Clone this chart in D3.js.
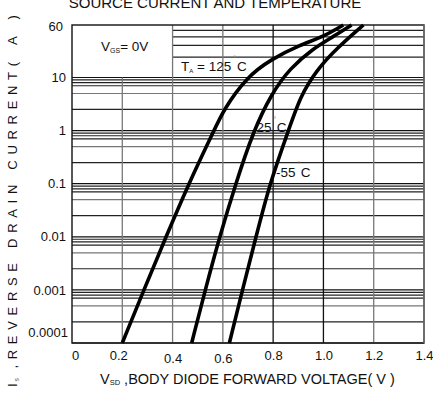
<!DOCTYPE html>
<html>
<head>
<meta charset="utf-8">
<script src="https://cdn.jsdelivr.net/npm/d3@7/dist/d3.min.js"></script>
<style>
  html, body { margin: 0; padding: 0; background: #fff; }
  svg { display: block; font-family: "Liberation Sans", Arial, sans-serif; }
</style>
</head>
<body>
<svg id="chart" width="433" height="394"></svg>
<script>
// Axis ticks
const voltageTicks = [0, 0.2, 0.4, 0.6, 0.8, 1.0, 1.2, 1.4];
const voltageLabels = ["0", "0.2", "0.4", "0.6", "0.8", "1.0", "1.2", "1.4"];
const currentTicks = [60, 10, 1, 0.1, 0.01, 0.001, 0.0001];
const currentLabels = ["60", "10", "1", "0.1", "0.01", "0.001", "0.0001"];

// Horizontal grid: decade lines plus these fractions of each decade
const decades = [10, 1, 0.1, 0.01, 0.001, 0.0001];
const decadeFractions = [0.9, 0.8, 0.7, 0.5, 0.25];
const topGrid = [20, 30, 40, 50];

// Body diode forward voltage (V) vs source current (A)
const vf125 = [0.200, 0.286, 0.374, 0.464, 0.565, 0.602, 0.695, 0.794, 0.907, 1.000, 1.079];
const is125 = [1e-4, 1e-3, 0.01, 0.1, 1.0, 2.44, 10.2, 18.8, 30.3, 40.3, 60];
const vf25 = [0.476, 0.530, 0.587, 0.651, 0.722, 0.794, 0.867, 0.960, 1.039, 1.112];
const is25 = [1e-4, 1e-3, 0.01, 0.1, 1.0, 5.0, 13.7, 27.1, 40.3, 60];
const vfm55 = [0.626, 0.678, 0.732, 0.786, 0.861, 0.907, 0.973, 1.053, 1.159];
const ism55 = [1e-4, 1e-3, 0.01, 0.1, 1.0, 4.35, 12.9, 27.1, 60];

const svg = d3.select("#chart");

const x = d3.scaleLinear().domain([0, 1.4]).range([72, 424]);
// Log scale, with the top segment (10..60) spread to the frame top
const y = d3.scaleLog().domain([0.0001, 10, 60]).range([343, 77.5, 25]);

const x0 = x(0), x1 = x(1.4), yTop = y(60), yBot = y(0.0001);

// Horizontal grid lines
const gridH = svg.append("g");
decades.forEach(d => {
  gridH.append("line").attr("x1", x0).attr("x2", x1)
    .attr("y1", y(d)).attr("y2", y(d)).attr("stroke", "#111").attr("stroke-width", 1.2);
  if (d > 0.0001) {
    decadeFractions.forEach(f => {
      const v = d * f;
      gridH.append("line").attr("x1", x0).attr("x2", x1)
        .attr("y1", y(v)).attr("y2", y(v))
        .attr("stroke", f === 0.5 ? "#777" : "#222").attr("stroke-width", 1.2);
    });
  }
});
topGrid.forEach(v => {
  gridH.append("line").attr("x1", x(0.4)).attr("x2", x1)
    .attr("y1", y(v)).attr("y2", y(v)).attr("stroke", "#222").attr("stroke-width", 1.2);
});

// Vertical grid lines
const gridV = svg.append("g");
voltageTicks.slice(1, -1).forEach(v => {
  const dark = (v === 0.8 || v === 1.0);
  gridV.append("line").attr("x1", x(v)).attr("x2", x(v))
    .attr("y1", v < 0.4 ? y(10) : yTop).attr("y2", yBot)
    .attr("stroke", dark ? "#111" : "#777").attr("stroke-width", 1.3);
});

// Frame
svg.append("rect").attr("x", x0).attr("y", yTop)
  .attr("width", x1 - x0).attr("height", yBot - yTop)
  .attr("fill", "none").attr("stroke", "#111").attr("stroke-width", 1.4);
svg.append("line").attr("x1", x1).attr("x2", x1).attr("y1", yTop).attr("y2", yBot)
  .attr("stroke", "#777").attr("stroke-width", 1.4);

// Axes (labels only)
const yAxis = d3.axisLeft(y).tickValues(currentTicks).tickSize(0).tickPadding(0)
  .tickFormat((d, i) => currentLabels[i]);
const gy = svg.append("g").attr("transform", `translate(${x0 - 6},0)`).call(yAxis);
gy.select(".domain").remove();
gy.selectAll("text").attr("font-size", 13).attr("fill", "#111")
  .attr("font-family", "Liberation Sans, Arial, sans-serif")
  .attr("dy", d => d === 0.0001 ? "-0.5em" : (d === 60 ? "0.4em" : "0.32em"))
  .attr("x", d => d === 0.0001 ? 2 : (d === 60 ? -3 : 0));

const xAxis = d3.axisBottom(x).tickValues(voltageTicks).tickSize(0).tickPadding(0)
  .tickFormat((d, i) => voltageLabels[i]);
const gx = svg.append("g").attr("transform", `translate(0,${yBot})`).call(xAxis);
gx.select(".domain").remove();
gx.selectAll("text").attr("font-size", 13).attr("fill", "#111")
  .attr("font-family", "Liberation Sans, Arial, sans-serif")
  .attr("y", d => (d === 0.4 || d === 0.6) ? 11 : 8)
  .attr("x", d => d === 0 ? 3 : (d === 0.2 ? -4 : 0));

// Curves
const line = d3.line().x(d => x(d[0])).y(d => y(d[1])).curve(d3.curveBasis);
[[vf125, is125], [vf25, is25], [vfm55, ism55]].forEach(([vs, is]) => {
  svg.append("path").datum(vs.map((v, i) => [v, is[i]]))
    .attr("d", line).attr("fill", "none").attr("stroke", "#000")
    .attr("stroke-width", 3.6).attr("stroke-linecap", "butt");
});

// Annotations
const vgs = svg.append("text").attr("x", 101).attr("y", 51)
  .attr("font-size", 13.5).attr("fill", "#111");
vgs.append("tspan").text("V");
vgs.append("tspan").attr("font-size", 7).attr("dy", 2).text("GS");
vgs.append("tspan").attr("dy", -2).text("= 0V");

function tempLabel(px, py, parts) {
  const t = svg.append("text").attr("x", px).attr("y", py)
    .attr("font-size", 13.5).attr("fill", "#111");
  parts.forEach(p => {
    const s = t.append("tspan").text(p.text);
    if (p.size) s.attr("font-size", p.size);
    if (p.dy) s.attr("dy", p.dy);
    if (p.dx) s.attr("dx", p.dx);
    if (p.fill) s.attr("fill", p.fill);
  });
}
const degree = { text: "°", size: 7, dy: -10, dx: 2, fill: "#888" };
tempLabel(181, 71, [
  { text: "T" }, { text: "A", size: 6, dy: 2 }, { text: " = 125", dy: -2 },
  degree, { text: "C", dy: 10, dx: 1 }
]);
tempLabel(256.5, 132, [
  { text: "25" }, degree, { text: "C", dy: 10, dx: 0.5 }
]);
tempLabel(276, 177, [
  { text: "-55" }, degree, { text: "C", dy: 10, dx: 0.5 }
]);

// Titles
svg.append("text").attr("x", 215).attr("y", 8).attr("text-anchor", "middle")
  .attr("font-size", 15).attr("fill", "#111").text("SOURCE CURRENT AND TEMPERATURE");

const xt = svg.append("text").attr("x", 100).attr("y", 384)
  .attr("font-size", 14.5).attr("fill", "#111");
xt.append("tspan").text("V");
xt.append("tspan").attr("font-size", 7.5).attr("dy", 1).text("SD");
xt.append("tspan").attr("dy", -1).text(" ,BODY DIODE FORWARD VOLTAGE( V )");

// Vertical title, letters spread along the left edge
const yt = svg.append("text")
  .attr("transform", "translate(17,387) rotate(-90)")
  .attr("font-size", 13).attr("fill", "#111");
yt.append("tspan").text("I");
yt.append("tspan").attr("font-size", 7).attr("dy", 2).attr("fill", "#666").text(" s");
yt.append("tspan").attr("dy", -2).attr("letter-spacing", 5.7)
  .text(" ,REVERSE DRAIN CURRENT");
yt.append("tspan").attr("letter-spacing", 7)
  .text("( A )");
</script>
</body>
</html>
